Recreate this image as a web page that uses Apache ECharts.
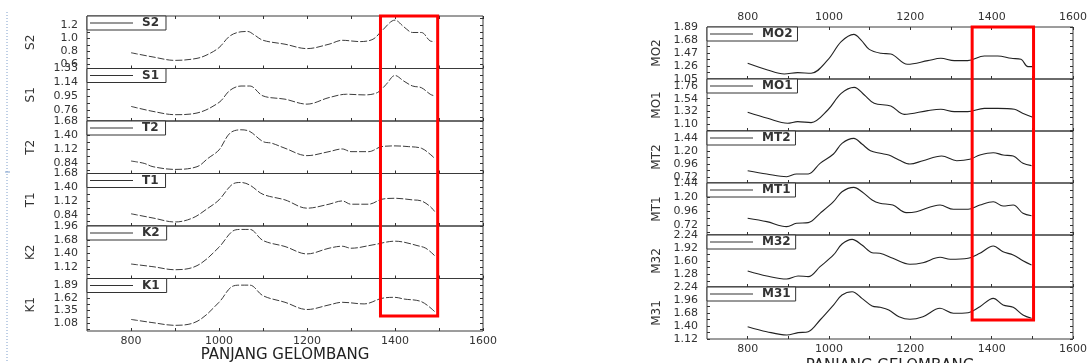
<!DOCTYPE html>
<html><head><meta charset="utf-8">
<script src="https://cdn.jsdelivr.net/npm/echarts@6/dist/echarts.min.js"></script>
<style>html,body{margin:0;padding:0;background:#fff}#c{width:1087px;height:363px}</style>
</head><body><div id="c"></div>
<script>
// ---------------- DATA ----------------
const xTickValues = [800, 900, 1000, 1100, 1200, 1300, 1400, 1500, 1600];
const xLabelValues = [800, 1000, 1200, 1400, 1600];
const xAxisTitle = 'PANJANG GELOMBANG';

const leftNames = ['S2', 'S1', 'T2', 'T1', 'K2', 'K1'];
const rightNames = ['MO2', 'MO1', 'MT2', 'MT1', 'M32', 'M31'];

const S2 = [[800,0.78],[850,0.715],[900,0.663],[950,0.694],[975,0.755],[1000,0.858],[1025,1.037],[1050,1.10],[1065,1.105],[1080,1.053],[1100,0.97],[1150,0.91],[1200,0.843],[1250,0.91],[1280,0.97],[1320,0.95],[1350,0.986],[1370,1.114],[1400,1.278],[1420,1.176],[1440,1.089],[1460,1.089],[1480,0.96],[1490,0.95]];
const S1 = [[800,0.81],[850,0.741],[900,0.696],[950,0.719],[1000,0.864],[1025,1.031],[1050,1.09],[1070,1.09],[1100,0.954],[1150,0.909],[1200,0.841],[1250,0.931],[1290,0.977],[1330,0.968],[1360,1.0],[1380,1.113],[1400,1.235],[1420,1.158],[1440,1.09],[1460,1.067],[1480,0.977],[1490,0.954]];
const T2 = [[800,0.879],[830,0.832],[850,0.765],[900,0.711],[950,0.765],[975,0.933],[1000,1.101],[1025,1.438],[1050,1.505],[1070,1.471],[1100,1.269],[1120,1.236],[1150,1.135],[1200,0.987],[1250,1.067],[1280,1.121],[1300,1.067],[1340,1.067],[1370,1.168],[1400,1.182],[1430,1.168],[1460,1.135],[1480,1.014],[1490,0.933]];
const T1 = [[800,0.859],[850,0.772],[900,0.691],[940,0.772],[975,0.973],[1000,1.142],[1030,1.458],[1050,1.498],[1070,1.444],[1100,1.256],[1150,1.142],[1200,0.973],[1250,1.054],[1280,1.121],[1300,1.054],[1340,1.054],[1370,1.155],[1400,1.175],[1440,1.142],[1460,1.121],[1480,1.007],[1490,0.906]];
const K2 = [[800,1.185],[850,1.13],[900,1.068],[950,1.151],[1000,1.528],[1030,1.85],[1050,1.891],[1070,1.891],[1100,1.665],[1150,1.542],[1200,1.391],[1250,1.507],[1280,1.548],[1300,1.507],[1350,1.576],[1400,1.651],[1420,1.631],[1450,1.562],[1470,1.507],[1490,1.356]];
const K1 = [[800,1.159],[850,1.088],[900,1.031],[950,1.116],[1000,1.528],[1030,1.869],[1050,1.898],[1070,1.898],[1100,1.67],[1150,1.528],[1200,1.372],[1250,1.471],[1280,1.528],[1330,1.493],[1370,1.613],[1400,1.635],[1420,1.599],[1460,1.542],[1490,1.329]];

const MO2 = [[800,1.303],[849,1.195],[890,1.131],[923,1.152],[956,1.142],[997,1.357],[1030,1.653],[1061,1.772],[1079,1.68],[1099,1.529],[1128,1.465],[1152,1.454],[1193,1.287],[1243,1.346],[1275,1.384],[1308,1.346],[1341,1.346],[1382,1.422],[1415,1.422],[1448,1.384],[1472,1.368],[1489,1.249],[1501,1.249]];
const MO1 = [[800,1.303],[849,1.199],[898,1.113],[923,1.142],[956,1.124],[997,1.343],[1030,1.632],[1062,1.736],[1087,1.603],[1111,1.459],[1152,1.413],[1185,1.268],[1243,1.332],[1275,1.355],[1308,1.315],[1341,1.315],[1382,1.372],[1415,1.372],[1456,1.355],[1476,1.286],[1501,1.217]];
const MT2 = [[800,0.837],[847,0.776],[896,0.726],[920,0.776],[949,0.776],[978,0.973],[1011,1.145],[1032,1.343],[1061,1.435],[1081,1.33],[1102,1.206],[1126,1.158],[1147,1.127],[1172,1.035],[1199,0.96],[1231,1.022],[1277,1.108],[1314,1.022],[1346,1.047],[1371,1.127],[1404,1.17],[1428,1.127],[1453,1.108],[1477,0.973],[1498,0.93]];
const MT1 = [[800,0.836],[847,0.778],[896,0.692],[920,0.75],[949,0.761],[978,0.921],[1011,1.12],[1032,1.291],[1061,1.366],[1081,1.291],[1106,1.149],[1125,1.093],[1157,1.063],[1190,0.932],[1215,0.949],[1273,1.063],[1306,0.99],[1342,0.99],[1371,1.063],[1404,1.12],[1428,1.046],[1453,1.063],[1477,0.921],[1498,0.88]];
const M32 = [[800,1.361],[847,1.239],[896,1.165],[924,1.239],[949,1.222],[978,1.466],[1011,1.752],[1032,2.02],[1057,2.134],[1081,1.996],[1106,1.808],[1125,1.793],[1157,1.671],[1199,1.524],[1231,1.564],[1273,1.695],[1298,1.647],[1342,1.671],[1371,1.793],[1404,1.971],[1428,1.832],[1453,1.752],[1477,1.612],[1498,1.507]];
const M31 = [[800,1.385],[847,1.277],[896,1.206],[924,1.256],[949,1.277],[978,1.529],[1011,1.852],[1032,2.068],[1057,2.139],[1081,1.996],[1106,1.831],[1126,1.803],[1147,1.745],[1172,1.6],[1199,1.544],[1231,1.6],[1273,1.781],[1306,1.674],[1342,1.687],[1371,1.816],[1404,1.996],[1428,1.852],[1453,1.803],[1477,1.637],[1498,1.566]];

const leftRanges = [[0.54,1.34],[0.61,1.33],[0.63,1.68],[0.61,1.68],[0.89,1.96],[0.91,2.04]];
const rightRanges = [[1.05,1.89],[0.98,1.88],[0.61,1.57],[0.55,1.44],[0.97,2.24],[1.12,2.24]];
const leftTickLabels = [
  ['1.2','1.0','0.8','0.6'],
  ['1.33','1.14','0.95','0.76'],
  ['1.68','1.40','1.12','0.84'],
  ['1.68','1.40','1.12','0.84'],
  ['1.96','1.68','1.40','1.12'],
  ['1.89','1.62','1.35','1.08']
];
const rightTickLabels = [
  ['1.89','1.68','1.47','1.26','1.05'],
  ['1.76','1.54','1.32','1.10'],
  ['1.44','1.20','0.96','0.72'],
  ['1.44','1.20','0.96','0.72'],
  ['2.24','1.92','1.60','1.28'],
  ['2.24','1.96','1.68','1.40','1.12']
];
// highlighted wavelength window (red boxes) and the value where each box ends in the last subplot
const leftWindow = [1367, 1497], leftWindowBottom = 1.23;
const rightWindow = [1352, 1503], rightWindowBottom = 1.53;

// ---------------- BUILD ----------------
const chart = echarts.init(document.getElementById('c'), null, {renderer: 'canvas'});
const FONT = 'DejaVu Sans';
const grids = [], xAxes = [], yAxes = [], series = [], legends = [];
const idx = {};

function tickSet(labels, mn, mx) {
  const vals = labels.map(parseFloat);
  const step = Math.abs(vals[0] - vals[1]) / 2;
  const out = [];
  for (let v = vals[0] + 4 * step; v >= mn - 1e-6; v -= step) if (v <= mx + 1e-6) out.push(+v.toFixed(4));
  return out;
}

function addPanel(p) {
  idx[p.key] = {x: [], y: []};
  for (let i = 0; i < 6; i++) {
    const g = grids.length;
    const top = p.top + i * p.h;
    grids.push({left: p.left, top: top, width: p.width, height: p.h, show: true,
      outerBoundsMode: 'none', containLabel: false,
      borderColor: '#3a3a3a', borderWidth: 1, backgroundColor: 'transparent'});
    const last = i === 5;
    const xi = xAxes.length;
    xAxes.push({gridIndex: g, type: 'value', min: 700, max: 1600, position: 'bottom',
      axisLine: {show: false}, splitLine: {show: false},
      axisTick: {show: true, inside: true, length: 3, customValues: xTickValues, lineStyle: {color: '#333'}},
      axisLabel: {show: last, customValues: xLabelValues, margin: 5, fontFamily: FONT, fontSize: 11, color: '#333',
        interval: 0, showMinLabel: true, showMaxLabel: true, formatter: v => String(v)},
      name: last ? xAxisTitle : '', nameLocation: 'middle', nameGap: p.titleGap,
      nameTextStyle: {fontFamily: FONT, fontSize: 15, color: '#222'}});
    if (i === 0) {
      xAxes.push({gridIndex: g, type: 'value', min: 700, max: 1600, position: 'top',
        axisLine: {show: false}, splitLine: {show: false},
        axisTick: {show: true, inside: true, length: 3, customValues: xTickValues, lineStyle: {color: '#333'}},
        axisLabel: {show: p.topLabels, customValues: xLabelValues, margin: 4, fontFamily: FONT, fontSize: 11, color: '#333',
          interval: 0, showMinLabel: true, showMaxLabel: true, formatter: v => String(v)}});
    }
    const [mn, mx] = p.ranges[i];
    const labels = p.tickLabels[i];
    const ticks = tickSet(labels, mn, mx);
    const yi = yAxes.length;
    yAxes.push({gridIndex: g, type: 'value', min: mn - 0.001, max: mx + 0.001, position: 'left',
      axisLine: {show: false}, splitLine: {show: false},
      axisTick: {show: true, inside: true, length: 3, customValues: ticks, lineStyle: {color: '#333'}},
      axisLabel: {customValues: labels.map(parseFloat), margin: 9, fontFamily: FONT, fontSize: 11, color: '#333',
        interval: 0, showMinLabel: true, showMaxLabel: true, hideOverlap: false,
        formatter: v => { const m = labels.find(s => Math.abs(parseFloat(s) - v) < 1e-6); return m || ''; }},
      name: p.names[i], nameLocation: 'middle', nameRotate: 90, nameGap: p.nameGap,
      nameTextStyle: {fontFamily: FONT, fontSize: 12, color: '#333'}});
    yAxes.push({gridIndex: g, type: 'value', min: mn - 0.001, max: mx + 0.001, position: 'right',
      axisLine: {show: false}, splitLine: {show: false},
      axisTick: {show: true, inside: true, length: 3, customValues: ticks, lineStyle: {color: '#333'}},
      axisLabel: {show: false}});
    idx[p.key].x.push(xi); idx[p.key].y.push(yi);
    series.push({type: 'line', name: p.names[i], xAxisIndex: xi, yAxisIndex: yi, data: p.data[i],
      symbol: 'none', smooth: 0.35, silent: true, color: p.color,
      lineStyle: {color: p.color, width: p.lw, type: p.dash}});
    legends.push({data: [p.names[i]], left: p.left, top: top, orient: 'horizontal',
      backgroundColor: '#fff', borderColor: '#333', borderWidth: 1, padding: [1, p.legendPadRight, 1, 3],
      icon: 'rect', itemWidth: 43, itemHeight: 1.2, itemGap: 0, selectedMode: false,
      lineStyle: {type: 'solid', width: 1, color: '#333'},
      itemStyle: {color: '#333'},
      textStyle: {fontFamily: FONT, fontSize: 12, fontWeight: 'bold', color: '#333', padding: [0, 0, 0, 4]}});
  }
}

addPanel({key: 'L', left: 87, width: 396, top: 16, h: 52.5, names: leftNames,
  data: [S2, S1, T2, T1, K2, K1], ranges: leftRanges, tickLabels: leftTickLabels,
  color: '#3c3c3c', lw: 1, dash: [7, 2], nameGap: 50, titleGap: 15, topLabels: false, legendPadRight: 7});
addPanel({key: 'R', left: 707, width: 366, top: 27, h: 52, names: rightNames,
  data: [MO2, MO1, MT2, MT1, M32, M31], ranges: rightRanges, tickLabels: rightTickLabels,
  color: '#222', lw: 1.1, dash: 'solid', nameGap: 44, titleGap: 20, topLabels: true, legendPadRight: 5});

chart.setOption({
  animation: false,
  backgroundColor: '#fff',
  grid: grids, xAxis: xAxes, yAxis: yAxes, series: series, legend: legends
});

function box(key, win, bottomVal) {
  const xi = idx[key].x[5], yTop = idx[key].y[0], yBot = idx[key].y[5];
  const x1 = chart.convertToPixel({xAxisIndex: xi}, win[0]);
  const x2 = chart.convertToPixel({xAxisIndex: xi}, win[1]);
  const topMax = yAxes[yTop].max;
  const y1 = chart.convertToPixel({yAxisIndex: yTop}, topMax);
  const y2 = chart.convertToPixel({yAxisIndex: yBot}, bottomVal);
  return {type: 'rect', z: 100, shape: {x: x1, y: y1, width: x2 - x1, height: y2 - y1},
    style: {fill: 'none', stroke: '#ff0000', lineWidth: 3}};
}
chart.setOption({graphic: [
  box('L', leftWindow, leftWindowBottom),
  box('R', rightWindow, rightWindowBottom),
  {type: 'line', z: 50, shape: {x1: 7, y1: 12, x2: 7, y2: 363}, style: {stroke: '#7f9fcc', lineWidth: 1, lineDash: [1, 2]}},
  {type: 'line', z: 50, shape: {x1: 5, y1: 172, x2: 10, y2: 172}, style: {stroke: '#7f9fcc', lineWidth: 1}}
]});
</script>
</body></html>
